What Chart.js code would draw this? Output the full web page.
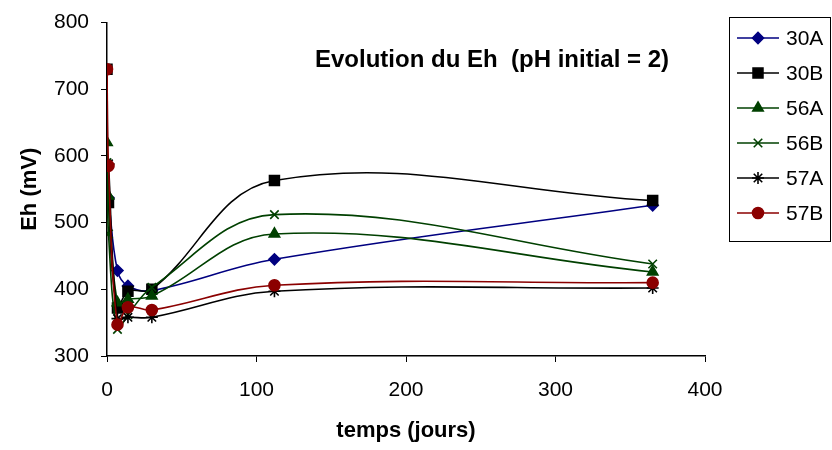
<!DOCTYPE html>
<html>
<head>
<meta charset="utf-8">
<script src="https://cdn.jsdelivr.net/npm/chart.js@4/dist/chart.umd.min.js"></script>
<style>
  html, body { margin: 0; padding: 0; background: #fff; }
  canvas { display: block; }
</style>
</head>
<body>
<canvas id="c" width="832" height="450"></canvas>
<script>
// ---- data ----
const seriesNames = ['30A', '30B', '56A', '56B', '57A', '57B'];

const days30A = [1, 7, 14, 30, 112, 365];
const eh30A   = [537, 428, 405, 398, 445, 526];

const days30B = [0, 1, 7, 14, 30, 112, 365];
const eh30B   = [730, 530, 372, 397, 400, 563, 533];

const days56A = [0, 1, 7, 14, 30, 112, 365];
const eh56A   = [620, 540, 380, 385, 390, 483, 426];

const days56B = [0, 1, 7, 14, 30, 112, 365];
const eh56B   = [590, 483, 340, 362, 403, 512, 438];

const days57A = [1, 7, 14, 30, 112, 365];
const eh57A   = [588, 356, 358, 358, 397, 402];

const days57B = [0, 1, 7, 14, 30, 112, 365];
const eh57B   = [730, 585, 347, 373, 369, 406, 410];

const xTicks = [0, 100, 200, 300, 400];
const yTicks = [300, 400, 500, 600, 700, 800];

const titleText = 'Evolution du Eh  (pH initial = 2)';
const xTitle = 'temps (jours)';
const yTitle = 'Eh (mV)';

// ---- styles ----
const FONT = '"Liberation Sans", Arial, sans-serif';
const styles = {
  '30A': { color: '#000080', point: 'rectRot', radius: 5.5, fill: '#000080' },
  '30B': { color: '#000000', point: 'rect', radius: 7, fill: '#000000' },
  '56A': { color: '#004000', point: 'triangle', radius: 6, fill: '#004000' },
  '56B': { color: '#004000', point: 'crossRot', radius: 6, fill: '#004000' },
  '57A': { color: '#000000', point: 'star', radius: 6, fill: '#000000' },
  '57B': { color: '#8B0000', point: 'circle', radius: 5.5, fill: '#8B0000' }
};

const seriesData = {
  '30A': [days30A, eh30A],
  '30B': [days30B, eh30B],
  '56A': [days56A, eh56A],
  '56B': [days56B, eh56B],
  '57A': [days57A, eh57A],
  '57B': [days57B, eh57B]
};

const datasets = seriesNames.map((name, idx) => {
  const [xs, ys] = seriesData[name];
  const s = styles[name];
  return {
    label: name,
    order: seriesNames.length - idx,
    data: xs.map((x, i) => ({ x: x, y: ys[i] })),
    borderColor: s.color,
    backgroundColor: s.fill,
    borderWidth: 1.6,
    pointStyle: s.point,
    pointRadius: s.radius,
    pointBorderWidth: 1.6,
    pointBorderColor: s.color,
    pointBackgroundColor: s.fill,
    tension: 0.38,
    fill: false
  };
});

const overlay = {
  id: 'overlay',
  afterDraw(chart) {
    const ctx = chart.ctx;
    ctx.save();
    // title inside plot
    ctx.fillStyle = '#000';
    ctx.font = 'bold 24px ' + FONT;
    ctx.textAlign = 'center';
    ctx.textBaseline = 'middle';
    ctx.fillText(titleText, 492, 60);

    // legend box
    ctx.strokeStyle = '#000';
    ctx.lineWidth = 1;
    ctx.strokeRect(729.5, 17.5, 101, 224);
    const rowY0 = 38, rowStep = 35;
    seriesNames.forEach((name, i) => {
      const ds = chart.data.datasets[i];
      const y = rowY0 + i * rowStep;
      ctx.strokeStyle = ds.borderColor;
      ctx.lineWidth = 1.6;
      ctx.beginPath();
      ctx.moveTo(737, y);
      ctx.lineTo(779, y);
      ctx.stroke();
      ctx.fillStyle = ds.pointBackgroundColor;
      ctx.strokeStyle = ds.pointBorderColor;
      Chart.helpers.drawPoint(ctx, {
        pointStyle: ds.pointStyle,
        radius: ds.pointRadius,
        borderWidth: ds.pointBorderWidth,
        rotation: 0
      }, 758, y);
      ctx.fillStyle = '#000';
      ctx.font = '21px ' + FONT;
      ctx.textAlign = 'left';
      ctx.textBaseline = 'middle';
      ctx.fillText(ds.label, 786, y + 1);
    });
    ctx.restore();
  }
};

new Chart(document.getElementById('c'), {
  type: 'line',
  data: { datasets },
  options: {
    responsive: false,
    animation: false,
    events: [],
    layout: { padding: { left: 0, right: 127, top: 16, bottom: 0 } },
    scales: {
      x: {
        type: 'linear',
        min: 0, max: 400,
        afterBuildTicks: s => { s.ticks = xTicks.map(v => ({ value: v })); },
        afterFit: s => { s.height = 94; },
        ticks: { color: '#000', font: { family: FONT, size: 21, lineHeight: 1 }, padding: 18, maxRotation: 0 },
        grid: { drawOnChartArea: false, drawTicks: true, tickLength: 6, color: '#000', lineWidth: 1 },
        border: { display: true, color: '#000', width: 1.5 },
        title: { display: true, text: xTitle, color: '#000', font: { family: FONT, size: 22, weight: 'bold' }, padding: { top: 0, bottom: 6 } }
      },
      y: {
        type: 'linear',
        min: 300, max: 800,
        afterBuildTicks: s => { s.ticks = yTicks.map(v => ({ value: v })); },
        afterFit: s => { s.width = 107; },
        ticks: { color: '#000', font: { family: FONT, size: 21, lineHeight: 1 }, padding: 12 },
        grid: { drawOnChartArea: false, drawTicks: true, tickLength: 6, color: '#000', lineWidth: 1 },
        border: { display: true, color: '#000', width: 1.5 },
        title: { display: true, text: yTitle, color: '#000', font: { family: FONT, size: 22, weight: 'bold' }, padding: { top: 17, bottom: 0 } }
      }
    },
    plugins: {
      legend: { display: false },
      tooltip: { enabled: false }
    }
  },
  plugins: [overlay]
});
</script>
</body>
</html>
